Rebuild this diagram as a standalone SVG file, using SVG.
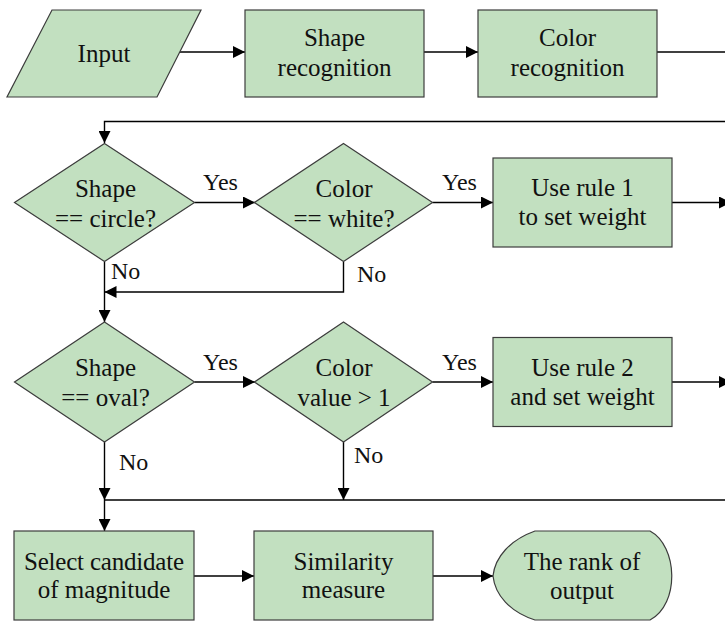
<svg xmlns="http://www.w3.org/2000/svg" width="725" height="622" viewBox="0 0 725 622">
  <defs>
    <style>
      .shape { fill: #c2e0c0; stroke: #3c3c3c; stroke-width: 1.2; }
      .label { font-family: 'Liberation Serif', 'Times New Roman', serif; font-size: 25px; fill: #111; text-anchor: middle; }
      .tag { font-family: 'Liberation Serif', 'Times New Roman', serif; font-size: 24px; fill: #111; }
      .wire { fill: none; stroke: #000; stroke-width: 1.4; }
    </style>
    <marker id="arrow" markerUnits="userSpaceOnUse" markerWidth="12" markerHeight="12" refX="12" refY="6" orient="auto">
      <path d="M0,0 L12,6 L0,12 Z" fill="#000"/>
    </marker>
  </defs>

  <rect width="725" height="622" fill="#fff"/>

  <!-- connectors and their Yes/No labels -->
  <g id="connectors">
    <path class="wire" d="M180,52 H245" marker-end="url(#arrow)"/>
    <path class="wire" d="M424,52 H478" marker-end="url(#arrow)"/>
    <path class="wire" d="M657,52 H725"/>
    <path class="wire" d="M725,121.5 H104.5 V143" marker-end="url(#arrow)"/>
    <path class="wire" d="M194.5,202.5 H255" marker-end="url(#arrow)"/>
    <path class="wire" d="M432.5,202.5 H493" marker-end="url(#arrow)"/>
    <path class="wire" d="M672,202.5 H731" marker-end="url(#arrow)"/>
    <path class="wire" d="M104.5,262 V322" marker-end="url(#arrow)"/>
    <path class="wire" d="M343.5,262 V292 H104.5" marker-end="url(#arrow)"/>
    <path class="wire" d="M194.5,382 H255" marker-end="url(#arrow)"/>
    <path class="wire" d="M432.5,382 H493" marker-end="url(#arrow)"/>
    <path class="wire" d="M672,382 H731" marker-end="url(#arrow)"/>
    <path class="wire" d="M104.5,441.5 V500" marker-end="url(#arrow)"/>
    <path class="wire" d="M343.5,441.5 V500" marker-end="url(#arrow)"/>
    <path class="wire" d="M725,500 H104.5"/>
    <path class="wire" d="M104.5,500 V531" marker-end="url(#arrow)"/>
    <path class="wire" d="M194,576 H254" marker-end="url(#arrow)"/>
    <path class="wire" d="M433,576 H493" marker-end="url(#arrow)"/>
    <text class="tag" x="203" y="190">Yes</text>
    <text class="tag" x="442" y="190">Yes</text>
    <text class="tag" x="111" y="279">No</text>
    <text class="tag" x="357" y="282">No</text>
    <text class="tag" x="203" y="370">Yes</text>
    <text class="tag" x="442" y="370">Yes</text>
    <text class="tag" x="119" y="470">No</text>
    <text class="tag" x="354" y="463">No</text>
  </g>

  <g id="input">
    <polygon class="shape" points="52,10 201,10 157,97 7,97"/>
    <text class="label" x="104" y="62">Input</text>
  </g>

  <g id="shape-recognition">
    <rect class="shape" x="245" y="10" width="179" height="87"/>
    <text class="label" x="334.5" y="46">Shape</text>
    <text class="label" x="334.5" y="76">recognition</text>
  </g>

  <g id="color-recognition">
    <rect class="shape" x="478" y="10" width="179" height="87"/>
    <text class="label" x="567.5" y="46">Color</text>
    <text class="label" x="567.5" y="76">recognition</text>
  </g>

  <g id="shape-circle">
    <polygon class="shape" points="104.5,143.5 194.5,202.5 104.5,261.5 14.5,202.5"/>
    <text class="label" x="105.5" y="197">Shape</text>
    <text class="label" x="105.5" y="227">== circle?</text>
  </g>

  <g id="color-white">
    <polygon class="shape" points="343.5,143.5 432.5,202.5 343.5,261.5 254.5,202.5"/>
    <text class="label" x="344" y="197">Color</text>
    <text class="label" x="344" y="227">== white?</text>
  </g>

  <g id="rule-1">
    <rect class="shape" x="493" y="158" width="179" height="89"/>
    <text class="label" x="582.5" y="196">Use rule 1</text>
    <text class="label" x="582.5" y="225">to set weight</text>
  </g>

  <g id="shape-oval">
    <polygon class="shape" points="104.5,322 194.5,382 104.5,442 14.5,382"/>
    <text class="label" x="105.5" y="376">Shape</text>
    <text class="label" x="105.5" y="406">== oval?</text>
  </g>

  <g id="color-value">
    <polygon class="shape" points="343.5,322 432.5,382 343.5,442 254.5,382"/>
    <text class="label" x="344" y="376">Color</text>
    <text class="label" x="344" y="406">value &gt; 1</text>
  </g>

  <g id="rule-2">
    <rect class="shape" x="493" y="337.5" width="179" height="89"/>
    <text class="label" x="582.5" y="376">Use rule 2</text>
    <text class="label" x="582.5" y="405">and set weight</text>
  </g>

  <g id="select-candidate">
    <rect class="shape" x="14" y="531" width="180" height="89"/>
    <text class="label" x="104" y="570" textLength="160" lengthAdjust="spacing">Select candidate</text>
    <text class="label" x="104" y="598">of magnitude</text>
  </g>

  <g id="similarity">
    <rect class="shape" x="254" y="531" width="179" height="89"/>
    <text class="label" x="343.5" y="570">Similarity</text>
    <text class="label" x="343.5" y="598">measure</text>
  </g>

  <g id="rank-output">
    <path class="shape" d="M535,531 H650 C678,546 680,604 650,620 H535 C510,612 495,595 493,576 C495,557 510,540 535,531 Z"/>
    <text class="label" x="582" y="570">The rank of</text>
    <text class="label" x="582" y="599">output</text>
  </g>
</svg>
